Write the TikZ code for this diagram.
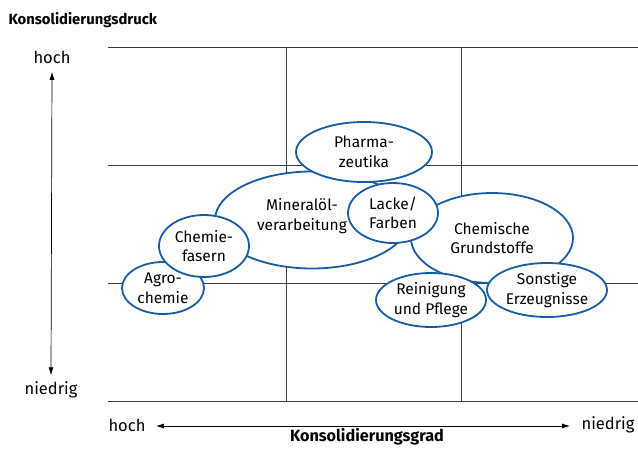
\documentclass[tikz,border=0pt]{standalone}
\usepackage{fontspec}
\setmainfont{Fira Sans}
\usetikzlibrary{shapes.geometric,arrows.meta}
\definecolor{segblue}{RGB}{24,92,166}
\definecolor{gridgray}{RGB}{60,60,60}
\tikzset{
  segment/.style={ellipse, draw=segblue, line width=1.8pt, fill=white,
    inner sep=0pt, align=center, font=\fontsize{15.5}{19.5}\selectfont},
  segtext/.style={align=center, inner sep=0pt, font=\fontsize{15.5}{19.5}\selectfont},
  axislabel/.style={font=\fontsize{16.5}{19}\selectfont},
  axistitle/.style={font=\bfseries\fontsize{15.5}{18}\selectfont},
  gridline/.style={gridgray, line width=0.8pt},
  axis/.style={line width=0.7pt, {Latex[length=8pt,width=5pt]}-{Latex[length=8pt,width=5pt]}}
}
\begin{document}
\begin{tikzpicture}[x=1pt,y=-1pt]
    \useasboundingbox (0,0) rectangle (638,451);
    % portfolio grid
    \draw[gridline] (108,47) -- (638,47);
    \draw[gridline] (108,165) -- (638,165);
    \draw[gridline] (108,283) -- (638,283);
    \draw[gridline] (108,401) -- (638,401);
    \foreach \x in {286,461}
    {
    \draw[gridline] (\x,47) -- (\x,401);
    }
    % axes
    \node[axistitle, anchor=west, font=\bfseries\fontsize{14.8}{18}\selectfont] (druck) at (5,20) {Konsolidierungsdruck};
    \node[axislabel] (yhoch) at (52,57) {hoch};
    \node[axislabel] (yniedrig) at (51,390) {niedrig};
    \node[axislabel] (xhoch) at (127,425) {hoch};
    \node[axislabel] (xniedrig) at (608,425) {niedrig};
    \node[axistitle, font=\bfseries\fontsize{16.2}{18}\selectfont] (grad) at (367,437) {Konsolidierungsgrad};
    \draw[axis] ([yshift=3pt]yniedrig.north) -- ([yshift=-5pt]yhoch.south);
    \draw[axis] ([xshift=7pt]xhoch.east |- 0,426) -- ([xshift=-8pt]xniedrig.west |- 0,426);
    % industry segments
    \node[segment, minimum width=82pt, minimum height=52pt] (agro) at (163,288) {Agro-\\chemie};
    \node[segment, minimum width=194pt, minimum height=97pt] (mineral) at (312,220) {};
    \node[segtext] (mineraltext) at (302,216) {Mineralöl-\\verarbeitung};
    \node[segment, minimum width=90pt, minimum height=62pt] (fasern) at (204,246) {Chemie-\\fasern};
    \node[segment, minimum width=162pt, minimum height=90pt] (grund) at (492,238) {Chemische\\Grundstoffe};
    \node[segment, minimum width=136pt, minimum height=60pt] (pharma) at (364,152) {Pharma-\\zeutika};
    \node[segment, minimum width=90pt, minimum height=60pt] (lacke) at (393,213) {Lacke/\\Farben};
    \node[segment, minimum width=110pt, minimum height=54pt] (pflege) at (431,300) {Reinigung\\und Pflege};
    \node[segment, minimum width=120pt, minimum height=54pt] (sonst) at (547,290) {Sonstige\\Erzeugnisse};
\end{tikzpicture}
\end{document}
